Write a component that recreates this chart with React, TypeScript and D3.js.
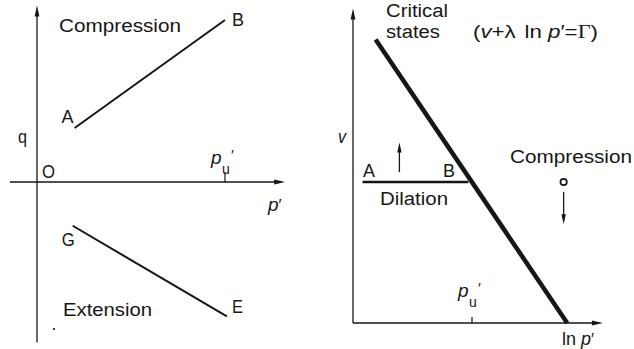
import React from "react";
import * as d3 from "d3";

// q–p′ plane: effective stress paths in compression and extension
const compressionPath = [
  { p: 0.2, q: 0.333 },
  { p: 1.0, q: 1.0 },
];
const extensionPath = [
  { p: 0.19, q: -0.27 },
  { p: 1.01, q: -0.83 },
];
const compressionLabels = ["A", "B"];
const extensionLabels = ["G", "E"];
const leftPuTick = 1.0;

// v–ln p′ plane: critical state line and drained path A→B
const criticalStateLine = [
  { lnp: 0.19, v: 2.01 },
  { lnp: 1.8, v: 0.0 },
];
const dilationPath = [
  { lnp: 0.08, v: 1.0 },
  { lnp: 0.97, v: 1.0 },
];
const rightPuTick = 1.0;
const compressionState = { lnp: 1.77, v: 1.0 };
const upArrow = { lnp: 0.39, from: 1.07, to: 1.28 };
const downArrow = { lnp: 1.77, from: 0.93, to: 0.7 };

const W = 634;
const H = 349;
const FONT = "'Liberation Sans', Arial, Helvetica, sans-serif";
const INK = "#161616";

// left panel scales
const xL = d3.scaleLinear().domain([0, 1]).range([37, 225]);
const yL = d3.scaleLinear().domain([0, 1]).range([182, 20]);
// right panel scales
const xR = d3.scaleLinear().domain([0, 1]).range([353, 472]);
const yR = d3.scaleLinear().domain([0, 1]).range([323, 182]);

function arrowHead(x: number, y: number, dir: "up" | "down" | "right", len = 10, half = 2.6) {
  if (dir === "up") return `M${x},${y} L${x - half},${y + len} L${x + half},${y + len} Z`;
  if (dir === "down") return `M${x},${y} L${x - half},${y - len} L${x + half},${y - len} Z`;
  return `M${x},${y} L${x - len},${y - half} L${x - len},${y + half} Z`;
}

function T({ x, y, w, size = 18, children, anchor = "start", style = "normal", family = FONT }: any) {
  return (
    <text
      x={x}
      y={y}
      fontSize={size}
      fontFamily={family}
      fontStyle={style}
      textAnchor={anchor}
      textLength={w}
      lengthAdjust={w ? "spacingAndGlyphs" : undefined}
      fill={INK}
    >
      {children}
    </text>
  );
}

function PuLabel({ x, y }: { x: number; y: number }) {
  return (
    <g fill={INK} fontFamily={FONT}>
      <text x={x} y={y} fontSize={19} fontStyle="italic">p</text>
      <text x={x + 11} y={y + 10} fontSize={14}>u</text>
      <text x={x + 20} y={y - 4} fontSize={15}>′</text>
    </g>
  );
}

export default function App() {
  const lineL = d3
    .line<{ p: number; q: number }>()
    .x((d) => xL(d.p))
    .y((d) => yL(d.q));
  const lineR = d3
    .line<{ lnp: number; v: number }>()
    .x((d) => xR(d.lnp))
    .y((d) => yR(d.v));

  // axis extents
  const lTop = yL(1.09);
  const lBottom = yL(-0.99);
  const lLeft = xL(-0.144);
  const lRight = xL(1.32);
  const rTop = yR(2.23);
  const rRight = xR(2.1);

  return (
    <svg
      width={W}
      height={H}
      style={{ position: "absolute", left: 0, top: 0, background: "#fff" }}
    >
      {/* ---------- left panel: q vs p′ ---------- */}
      <g stroke={INK} fill="none">
        <line x1={xL(0)} y1={lBottom} x2={xL(0)} y2={lTop + 8} strokeWidth={1.3} />
        <line x1={lLeft} y1={yL(0)} x2={lRight - 8} y2={yL(0)} strokeWidth={1.3} />
        <line
          x1={xL(leftPuTick)}
          y1={yL(0)}
          x2={xL(leftPuTick)}
          y2={yL(0) - 10}
          strokeWidth={1.2}
        />
        <path d={lineL(compressionPath) || ""} strokeWidth={2} />
        <path d={lineL(extensionPath) || ""} strokeWidth={2} />
      </g>
      <path d={arrowHead(xL(0), lTop, "up", 11, 2.4)} fill={INK} />
      <path d={arrowHead(lRight, yL(0), "right", 11, 2.4)} fill={INK} />
      <circle cx={54} cy={329} r={1.1} fill={INK} />

      <T x={59} y={32} w={122}>Compression</T>
      <T x={xL(compressionPath[0].p) - 13} y={123} w={12}>{compressionLabels[0]}</T>
      <T x={xL(compressionPath[1].p) + 7} y={26} w={12}>{compressionLabels[1]}</T>
      <T x={xL(extensionPath[0].p) - 11} y={246} w={13}>{extensionLabels[0]}</T>
      <T x={xL(extensionPath[1].p) + 5} y={313} w={11}>{extensionLabels[1]}</T>
      <T x={63} y={316} w={89}>Extension</T>
      <T x={18} y={143} w={9}>q</T>
      <T x={42} y={178} w={13}>O</T>
      <PuLabel x={211} y={164} />
      <text x={268} y={211} fontSize={19} fontFamily={FONT} fontStyle="italic" fill={INK}>
        p<tspan fontStyle="normal" fontSize={16}>′</tspan>
      </text>

      {/* ---------- right panel: v vs ln p′ ---------- */}
      <g stroke={INK} fill="none">
        <line x1={xR(0)} y1={yR(0)} x2={xR(0)} y2={rTop + 8} strokeWidth={1.3} />
        <line x1={xR(0)} y1={yR(0)} x2={rRight - 8} y2={yR(0)} strokeWidth={1.3} />
        <line
          x1={xR(rightPuTick)}
          y1={yR(0)}
          x2={xR(rightPuTick)}
          y2={yR(0) - 6}
          strokeWidth={1.2}
        />
        <path d={lineR(criticalStateLine) || ""} strokeWidth={4.5} />
        <path d={lineR(dilationPath) || ""} strokeWidth={2.4} />
        <line
          x1={xR(upArrow.lnp)}
          y1={yR(upArrow.from)}
          x2={xR(upArrow.lnp)}
          y2={yR(upArrow.to) + 6}
          strokeWidth={1.3}
        />
        <line
          x1={xR(downArrow.lnp)}
          y1={yR(downArrow.from)}
          x2={xR(downArrow.lnp)}
          y2={yR(downArrow.to) - 6}
          strokeWidth={1.3}
        />
        <circle
          cx={xR(compressionState.lnp)}
          cy={yR(compressionState.v)}
          r={3.2}
          strokeWidth={1.7}
        />
      </g>
      <path d={arrowHead(xR(0), rTop, "up", 11, 2.4)} fill={INK} />
      <path d={arrowHead(rRight, yR(0), "right", 11, 2.4)} fill={INK} />
      <path d={arrowHead(xR(upArrow.lnp), yR(upArrow.to), "up", 10, 2.2)} fill={INK} />
      <path d={arrowHead(xR(downArrow.lnp), yR(downArrow.to), "down", 10, 2.2)} fill={INK} />

      <T x={386} y={17} w={62}>Critical</T>
      <T x={386} y={38} w={54}>states</T>
      <text x={473} y={38} fontSize={18} fontFamily={FONT} fill={INK} textLength={125} lengthAdjust="spacingAndGlyphs">
        (<tspan fontStyle="italic">v</tspan>+λ<tspan dx={7}>ln</tspan>
        <tspan dx={5} fontStyle="italic">p</tspan>′=<tspan fontFamily="'Liberation Serif', serif">Γ</tspan>)
      </text>
      <T x={338} y={143} w={8} style="italic">v</T>
      <T x={363} y={177} w={12}>A</T>
      <T x={443} y={177} w={12}>B</T>
      <T x={380} y={205} w={68}>Dilation</T>
      <T x={510} y={163} w={122}>Compression</T>
      <PuLabel x={458} y={297} />
      <text x={562} y={345} fontSize={18} fontFamily={FONT} fill={INK}>
        ln<tspan dx={5} fontStyle="italic">p</tspan><tspan fontSize={16}>′</tspan>
      </text>
    </svg>
  );
}
